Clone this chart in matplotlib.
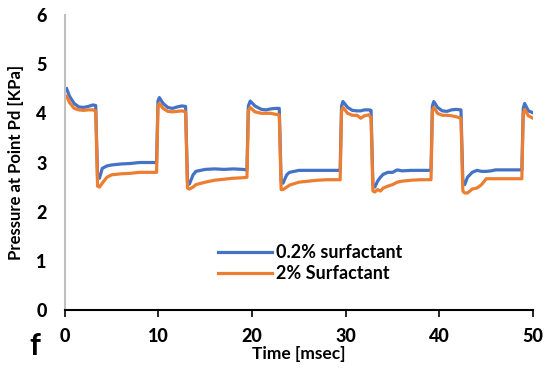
import matplotlib
matplotlib.use("Agg")
import matplotlib.pyplot as plt

plt.rcParams['font.family'] = ['Lato', 'DejaVu Sans']

# time samples (msec)
time_ms = [
    0.2, 0.5, 1.0, 1.5, 2.0, 2.5, 3.0, 3.3,
    3.5, 3.7, 4.0, 4.5, 5.0, 6.0, 7.0, 8.0, 9.0, 9.8,
    9.95, 10.1, 10.5, 11.0, 11.5, 12.0, 12.5, 12.9,
    13.1, 13.3, 13.7, 14.0, 15.0, 16.0, 17.0, 18.0, 19.0, 19.45,
    19.6, 19.8, 20.3, 21.0, 21.5, 22.0, 22.5, 22.9,
    23.1, 23.3, 23.7, 24.0, 25.0, 26.0, 27.0, 28.0, 29.0, 29.4,
    29.55, 29.7, 30.2, 30.7, 31.2, 31.6, 32.0, 32.5, 32.7,
    32.9, 33.1, 33.4, 33.7, 34.0, 34.5, 35.0, 35.5, 36.0, 37.0, 38.0, 39.1,
    39.25, 39.4, 39.8, 40.3, 40.8, 41.3, 41.8, 42.3,
    42.5, 42.7, 43.0, 43.5, 44.0, 44.5, 45.0, 45.5, 46.0, 47.0, 48.0, 48.8,
    48.95, 49.1, 49.5, 50.0,
]

# 0.2% surfactant (KPa)
p_low_surf = [
    4.50, 4.35, 4.20, 4.13, 4.12, 4.14, 4.17, 4.16,
    2.70, 2.68, 2.88, 2.93, 2.95, 2.97, 2.98, 3.00, 3.00, 3.00,
    4.25, 4.32, 4.20, 4.12, 4.10, 4.13, 4.15, 4.14,
    2.60, 2.56, 2.75, 2.82, 2.86, 2.87, 2.86, 2.87, 2.86, 2.85,
    4.15, 4.25, 4.15, 4.08, 4.07, 4.09, 4.10, 4.10,
    2.62, 2.58, 2.75, 2.80, 2.84, 2.84, 2.84, 2.84, 2.84, 2.84,
    4.15, 4.24, 4.12, 4.06, 4.05, 4.05, 4.07, 4.07, 4.06,
    2.55, 2.50, 2.62, 2.70, 2.76, 2.80, 2.80, 2.85, 2.83, 2.84, 2.84, 2.84,
    4.15, 4.24, 4.12, 4.05, 4.04, 4.07, 4.08, 4.07,
    2.62, 2.55, 2.70, 2.80, 2.84, 2.82, 2.82, 2.83, 2.85, 2.85, 2.85, 2.85,
    4.10, 4.20, 4.05, 4.01,
]

# 2% Surfactant (KPa)
p_high_surf = [
    4.35, 4.22, 4.10, 4.07, 4.06, 4.07, 4.07, 4.05,
    2.52, 2.50, 2.58, 2.70, 2.75, 2.77, 2.78, 2.80, 2.80, 2.80,
    4.15, 4.20, 4.10, 4.04, 4.03, 4.04, 4.05, 4.03,
    2.48, 2.46, 2.50, 2.55, 2.60, 2.64, 2.66, 2.68, 2.69, 2.70,
    4.05, 4.12, 4.03, 4.00, 4.00, 4.00, 3.98, 3.97,
    2.45, 2.45, 2.50, 2.54, 2.60, 2.62, 2.64, 2.65, 2.65, 2.65,
    4.05, 4.12, 4.00, 3.96, 3.96, 3.90, 3.95, 3.97, 3.90,
    2.42, 2.40, 2.45, 2.42, 2.48, 2.52, 2.55, 2.60, 2.62, 2.64, 2.65, 2.65,
    4.05, 4.12, 4.00, 3.96, 3.96, 3.95, 3.93, 3.90,
    2.42, 2.38, 2.38, 2.46, 2.48, 2.55, 2.67, 2.67, 2.67, 2.67, 2.67, 2.67,
    4.00, 4.08, 3.95, 3.90,
]

series_labels = ["0.2% surfactant", "2% Surfactant"]
x_ticks = [0, 10, 20, 30, 40, 50]
y_ticks = [0, 1, 2, 3, 4, 5, 6]

fig = plt.figure(figsize=(5.49, 3.74), dpi=100)
ax = fig.add_axes([0.118, 0.171, 0.853, 0.789])

ax.plot(time_ms, p_low_surf, color="#4472C4", lw=2.3, label=series_labels[0])
ax.plot(time_ms, p_high_surf, color="#ED7D31", lw=2.3, label=series_labels[1])

ax.set_xlim(0, 50)
ax.set_ylim(0, 6)
ax.set_xticks(x_ticks)
ax.set_yticks(y_ticks)
for lab in ax.get_xticklabels() + ax.get_yticklabels():
    lab.set_fontweight("black")
    lab.set_fontsize(13)

ax.tick_params(axis="y", length=0, pad=13)
ax.tick_params(axis="x", length=5, width=1.2, direction="out", pad=8, color="black")

for s in ["top", "right"]:
    ax.spines[s].set_visible(False)
ax.spines["left"].set_color("#bfbfbf")
ax.spines["left"].set_linewidth(1.5)
ax.spines["bottom"].set_color("black")
ax.spines["bottom"].set_linewidth(1.5)

ax.set_xlabel("Time [msec]", fontsize=12.5, fontweight="bold", labelpad=1)
ax.set_ylabel("Pressure at Point Pd [KPa]", fontsize=12, fontweight="bold", labelpad=9)

leg = ax.legend(loc="upper left", bbox_to_anchor=(0.3, 0.265), frameon=False,
                prop={"weight": "bold", "size": 13}, handlelength=3.0,
                handletextpad=0.2, labelspacing=0.2, borderaxespad=0.3)

fig.text(0.053, 0.075, "f", fontsize=22, fontweight="bold", ha="left", va="center")

fig.savefig("out.png", dpi=100)
